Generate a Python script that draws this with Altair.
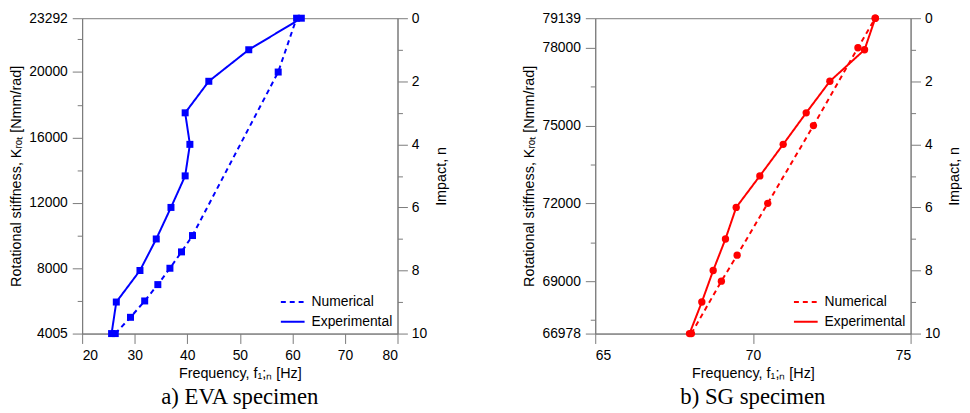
import altair as alt
import pandas as pd

# ---------------- data ----------------
impact_n = [0, 1, 2, 3, 4, 5, 6, 7, 8, 9, 10]

eva_exp_f = [61.7, 51.7, 44.1, 39.6, 40.5, 39.6, 36.9, 34.1, 31.0, 26.5, 25.6]
eva_num_k = [23292, 20000, 10000, 9000, 8000, 7000, 6000, 5000, 4005]
eva_num_f = [60.8, 57.3, 41.0, 38.9, 36.7, 34.4, 31.9, 29.2, 26.3]

sg_exp_f = [73.88, 73.54, 72.44, 71.69, 70.96, 70.22, 69.47, 69.13, 68.74, 68.38, 67.99]
sg_num_k = [79139, 78000, 75000, 72000, 70000, 69000, 66978]
sg_num_f = [73.88, 73.33, 71.92, 70.47, 69.50, 69.00, 68.05]

eva_f_ticks = [20, 30, 40, 50, 60, 70, 80]
sg_f_ticks = [65, 70, 75]
eva_k_ticks = [4005, 8000, 12000, 16000, 20000, 23292]
eva_k_minor = [6000, 10000, 14000, 18000, 22000]
sg_k_ticks = [66978, 69000, 72000, 75000, 78000, 79139]
sg_k_minor = [67500, 70500, 73500, 76500]
n_ticks = [0, 2, 4, 6, 8, 10]
n_minor = [1, 3, 5, 7, 9]
series_names = ["Numerical", "Experimental"]

AXIS_GRAY = "#7a7a7a"


def panel(exp_f, num_k, num_f, color, shape, psize, f_dom, f_ticks,
          k_dom, k_ticks, k_minor, caption):
    exp_df = pd.DataFrame({"f": exp_f, "n": impact_n, "series": "Experimental"})
    num_df = pd.DataFrame({"f": num_f, "k": num_k, "series": "Numerical"})
    k_minor_df = pd.DataFrame({"k": k_minor, "f": f_dom[0]})
    n_minor_df = pd.DataFrame({"n": n_minor, "f": f_dom[0]})

    x_enc = alt.X(
        "f:Q",
        scale=alt.Scale(domain=f_dom, nice=False, zero=False),
        axis=alt.Axis(values=f_ticks, format="d", title="Frequency, f₁;ₙ [Hz]",
                      tickSize=10, labelPadding=5, titlePadding=4),
    )

    def k_scale():
        return alt.Scale(domain=k_dom, nice=False, zero=False)

    def n_scale():
        return alt.Scale(domain=[0, 10], nice=False, zero=False, reverse=True)

    dash = alt.StrokeDash(
        "series:N",
        scale=alt.Scale(domain=series_names, range=[[5, 4], [1, 0]]),
        legend=alt.Legend(
            title=None, orient="bottom-right", symbolType="stroke",
            symbolStrokeColor=color, symbolStrokeWidth=2, symbolSize=576,
            labelFontSize=14, labelColor="black", labelFont="Liberation Sans",
            offset=5, padding=0, rowPadding=-9, labelOffset=6,
        ),
    )

    num_line = alt.Chart(num_df).mark_line(color=color, strokeWidth=2).encode(
        x=x_enc,
        y=alt.Y("k:Q", scale=k_scale(),
                axis=alt.Axis(orient="left", values=k_ticks, format="d",
                              title="Rotational stiffness, Kᵣₒₜ [Nmm/rad]",
                              tickSize=10, labelPadding=5, titlePadding=5)),
        strokeDash=dash,
        order=alt.Order("k:Q"),
    )
    num_pts = alt.Chart(num_df).mark_point(
        shape=shape, size=psize, filled=True, color=color, opacity=1
    ).encode(
        x=x_enc,
        y=alt.Y("k:Q", scale=k_scale(), axis=None),
    )
    k_minor_layer = alt.Chart(k_minor_df).mark_point(opacity=0).encode(
        x=x_enc,
        y=alt.Y("k:Q", scale=k_scale(),
                axis=alt.Axis(orient="left", values=k_minor, labels=False,
                              domain=False, tickSize=5, title=None)),
    )
    exp_line = alt.Chart(exp_df).mark_line(color=color, strokeWidth=2).encode(
        x=x_enc,
        y=alt.Y("n:Q", scale=n_scale(),
                axis=alt.Axis(orient="right", values=n_ticks, format="d",
                              title="Impact, n", titleAngle=-90,
                              titleBaseline="top",
                              tickSize=10, labelPadding=4, titlePadding=8)),
        strokeDash=dash,
        order=alt.Order("n:Q"),
    )
    exp_pts = alt.Chart(exp_df).mark_point(
        shape=shape, size=psize, filled=True, color=color, opacity=1
    ).encode(
        x=x_enc,
        y=alt.Y("n:Q", scale=n_scale(), axis=None),
    )
    n_minor_layer = alt.Chart(n_minor_df).mark_point(opacity=0).encode(
        x=x_enc,
        y=alt.Y("n:Q", scale=n_scale(),
                axis=alt.Axis(orient="right", values=n_minor, labels=False,
                              domain=False, tickSize=5, title=None)),
    )

    return alt.layer(
        num_line, num_pts, k_minor_layer, exp_line, exp_pts, n_minor_layer
    ).resolve_scale(y="independent").properties(
        width=319, height=319,
        title=alt.TitleParams(caption, orient="bottom", anchor="middle",
                              font="Liberation Serif", fontSize=23,
                              fontWeight="normal", color="black", offset=7),
    )


eva = panel(eva_exp_f, eva_num_k, eva_num_f, "#0000ff", "square", 50,
            [20, 80], eva_f_ticks, [4005, 23292], eva_k_ticks, eva_k_minor,
            "a) EVA specimen")
sg = panel(sg_exp_f, sg_num_k, sg_num_f, "#ff0000", "circle", 55,
           [65, 75], sg_f_ticks, [66978, 79139], sg_k_ticks, sg_k_minor,
           "b) SG specimen")

chart = alt.hconcat(eva, sg, spacing=73).resolve_scale(
    strokeDash="independent"
).resolve_legend(strokeDash="independent").properties(
    padding={"left": 0, "top": 0, "right": 0, "bottom": 0}
).configure_view(
    stroke=AXIS_GRAY, strokeWidth=1
).configure_axis(
    grid=False, domainColor=AXIS_GRAY, tickColor=AXIS_GRAY, domainWidth=1,
    tickWidth=1, labelFont="Liberation Sans", labelFontSize=14,
    labelColor="black", titleFont="Liberation Sans", titleFontSize=14.5,
    titleFontWeight="normal", titleColor="black",
).configure_legend(
    labelFont="Liberation Sans",
)

chart.save("out.html", embed_options={"renderer": "svg", "actions": False})
